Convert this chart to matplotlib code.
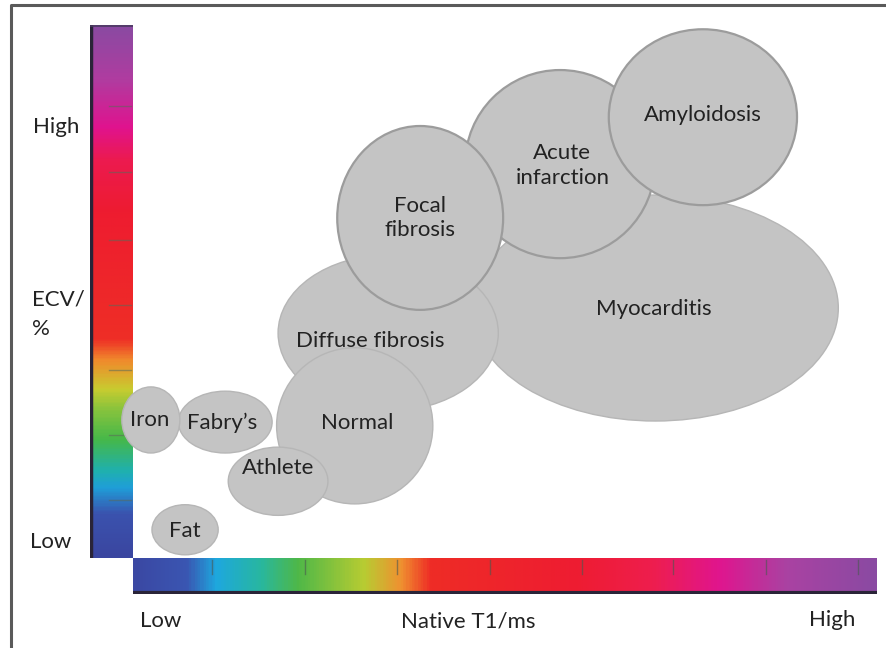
import numpy as np
import matplotlib
matplotlib.use("Agg")
import matplotlib.pyplot as plt
from matplotlib.patches import Ellipse
from matplotlib.colors import LinearSegmentedColormap

# ---- data: tissue groups on a native T1 (x) vs ECV (y) map, arbitrary 0-100 units ----
labels = ["Myocarditis", "Diffuse fibrosis", "Normal", "Athlete", "Fabry\u2019s",
          "Iron", "Fat", "Acute\ninfarction", "Amyloidosis", "Focal\nfibrosis"]
t1_center = [70.2, 34.3, 29.8, 19.5, 12.4, 2.4, 7.0, 57.4, 76.6, 38.6]
ecv_center = [46.9, 42.2, 24.8, 14.4, 25.5, 25.9, 5.3, 73.9, 82.7, 63.8]
t1_width = [49.2, 29.6, 21.0, 13.4, 12.6, 7.8, 8.9, 25.5, 25.3, 22.3]
ecv_height = [42.4, 29.3, 29.3, 12.8, 11.6, 12.4, 9.4, 35.3, 33.0, 34.5]
label_t1 = [70.0, 31.9, 30.1, 19.5, 12.0, 2.3, 6.9, 57.7, 76.6, 38.6]
label_ecv = [46.7, 40.7, 25.3, 16.9, 25.3, 25.9, 5.1, 73.7, 83.1, 63.8]
# groups whose rim stands out against the neighbours they overlap
outlined = ["Acute\ninfarction", "Amyloidosis", "Focal\nfibrosis"]

# colour scale stops (position, colour)
ecv_stops = [(0.0, "#3a46a0"), (0.08, "#3b52ae"), (0.13, "#1f9ed8"), (0.16, "#1fb0b0"),
             (0.22, "#45b84a"), (0.28, "#8cc43c"), (0.315, "#c8cc30"), (0.37, "#f08a2c"),
             (0.41, "#ee2e26"), (0.65, "#ee1c30"), (0.75, "#ec1a50"), (0.81, "#e0138e"),
             (0.90, "#b03ca0"), (1.0, "#8a4aa2")]
t1_stops = [(0.0, "#3b48a3"), (0.07, "#3a56b2"), (0.11, "#1ea8de"), (0.17, "#28b7a0"),
            (0.22, "#4fb848"), (0.31, "#b8cc32"), (0.36, "#f09030"), (0.40, "#ee2c26"),
            (0.60, "#ee1c32"), (0.70, "#ee1e4e"), (0.79, "#e0158e"), (0.88, "#aa42a2"),
            (1.0, "#8a4aa2")]
scale_ticks = [0.109, 0.231, 0.353, 0.475, 0.597, 0.724, 0.848]
t1_ticks = [0.106, 0.231, 0.355, 0.480, 0.603, 0.726, 0.851, 0.974]

W, H = 886, 648
fig = plt.figure(figsize=(W / 100, H / 100), dpi=100)
fig.patch.set_facecolor("white")
FONT = ["Lato", "DejaVu Sans"]
TXT = "#222222"
FS = 16


def px_axes(x0, y0, x1, y1, **kw):
    return fig.add_axes([x0 / W, 1 - y1 / H, (x1 - x0) / W, (y1 - y0) / H], **kw)


# frame around the figure
frame = px_axes(0, 0, W, H)
frame.set_xlim(0, W)
frame.set_ylim(H, 0)
frame.axis("off")
frame.plot([11, 11, W + 5], [H + 5, 5, 5], color="#5a5a5a", lw=2.2, solid_capstyle="butt")

# ECV colour scale (vertical)
cmap_v = LinearSegmentedColormap.from_list("ecv", ecv_stops)
axv = px_axes(90, 25, 133, 558)
axv.imshow(np.linspace(0, 1, 400).reshape(-1, 1), cmap=cmap_v, aspect="auto",
           origin="lower", extent=(0, 1, 0, 1))
axv.set_xlim(0, 1)
axv.set_ylim(0, 1)
axv.axis("off")
axv.plot([0.025, 0.025], [0, 1], color="#2a2438", lw=2.5)
axv.plot([0, 1], [0.998, 0.998], color="#4a3a60", lw=1.2)
for t in scale_ticks:
    axv.plot([0.45, 0.95], [t, t], color="#5a6a5a", lw=1.0, alpha=0.55)

# native T1 colour scale (horizontal)
cmap_h = LinearSegmentedColormap.from_list("t1", t1_stops)
axh = px_axes(133, 558, 877, 594)
axh.imshow(np.linspace(0, 1, 600).reshape(1, -1), cmap=cmap_h, aspect="auto",
           origin="lower", extent=(0, 1, 0, 1))
axh.set_xlim(0, 1)
axh.set_ylim(0, 1)
axh.axis("off")
axh.plot([0, 1], [0.03, 0.03], color="#2a2438", lw=3)
for t in t1_ticks:
    axh.plot([t, t], [0.55, 0.95], color="#4a5a50", lw=1.0, alpha=0.6)

# main map, drawn above the colour scales so shapes may overlap them
ax = px_axes(133, 25, 877, 558)
ax.set_xlim(0, 100)
ax.set_ylim(0, 100)
ax.axis("off")
ax.patch.set_alpha(0)
for i, lab in enumerate(labels):
    strong = lab in outlined
    e = Ellipse((t1_center[i], ecv_center[i]), t1_width[i], ecv_height[i],
                facecolor="#c4c4c4", edgecolor="#9c9c9c" if strong else "#b6b6b6",
                lw=1.6 if strong else 1.0, clip_on=False, zorder=2 + i)
    ax.add_patch(e)
    ax.text(label_t1[i], label_ecv[i], lab, ha="center", va="center",
            fontsize=FS, family=FONT, color=TXT, zorder=20, linespacing=1.3)

# axis captions
cap = dict(fontsize=FS, family=FONT, color=TXT, va="center")
frame.text(56, 127, "High", ha="center", **cap)
frame.text(32, 300, "ECV/", ha="left", **cap)
frame.text(32, 329, "%", ha="left", **cap)
frame.text(51, 542, "Low", ha="center", **cap)
frame.text(161, 621, "Low", ha="center", **cap)
frame.text(468, 622, "Native T1/ms", ha="center", **cap)
frame.text(832, 620, "High", ha="center", **cap)

fig.savefig("out.png", dpi=100, facecolor="white")
